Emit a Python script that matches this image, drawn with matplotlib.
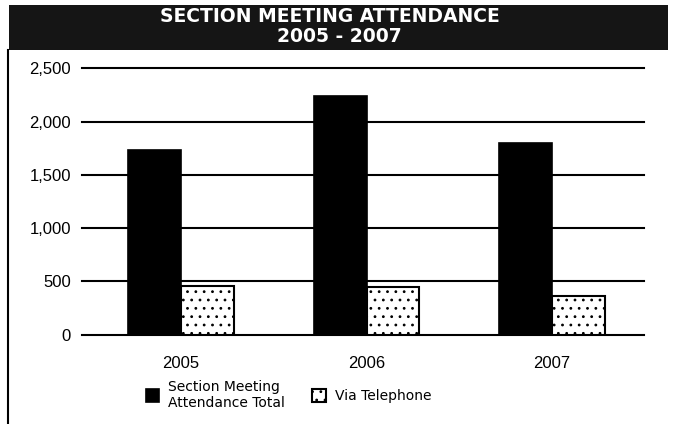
import matplotlib.pyplot as plt
import numpy as np
from matplotlib.lines import Line2D
from matplotlib.patches import Rectangle

years = ['2005', '2006', '2007']
attendance_total = [1730, 2240, 1795]
via_telephone = [455, 450, 365]
y_ticks = [0, 500, 1000, 1500, 2000, 2500]

plt.rcParams['hatch.color'] = '#9a9a9a'
plt.rcParams['hatch.linewidth'] = 0.8

fig = plt.figure(figsize=(6.73, 4.24), dpi=100)
ax = fig.add_axes([0.1218, 0.2104, 0.8351, 0.6286])

x = np.arange(len(years))
w = 0.285
ax.bar(x - w / 2, attendance_total, width=w, color='black', edgecolor='black',
       linewidth=1.2, label='Section Meeting\nAttendance Total', zorder=3)
ax.bar(x + w / 2, via_telephone, width=w, color='white', edgecolor='black',
       linewidth=1.5, hatch='..', label='Via Telephone', zorder=3)

ax.set_xlim(-0.534, 2.496)
ax.set_ylim(0, 2500)
ax.set_yticks(y_ticks)
ax.set_yticklabels([f'{v:,}' for v in y_ticks], fontsize=12, family='Liberation Sans')
ax.set_xticks(x)
ax.set_xticklabels(years, fontsize=12, family='Liberation Sans')
ax.tick_params(axis='y', length=0, pad=8)
ax.tick_params(axis='x', length=0, pad=15)
for v in y_ticks:
    ax.axhline(v, color='black', linewidth=1.5, zorder=1, clip_on=False)
for s in ax.spines.values():
    s.set_visible(False)

# title banner
fig.add_artist(Rectangle((9 / 673, 1 - 50 / 424), 659 / 673, 45 / 424,
                         transform=fig.transFigure, facecolor='#151515',
                         edgecolor='none'))
fig.text(0.49, 1 - 16 / 424, 'SECTION MEETING ATTENDANCE', color='white',
         fontsize=13.5, fontweight='bold', ha='center', va='center')
fig.text(0.505, 1 - 37 / 424, '2005 - 2007', color='white',
         fontsize=13.5, fontweight='bold', ha='center', va='center')

# left frame line
fig.add_artist(Line2D([8 / 673, 8 / 673], [0, 1 - 50 / 424],
                      transform=fig.transFigure, color='black', linewidth=1.5))

fig.legend(loc='upper left', bbox_to_anchor=(140 / 673, 1 - 374 / 424),
           ncol=2, frameon=False, fontsize=10, handlelength=1.0,
           handleheight=1.0, handletextpad=0.6, columnspacing=2.0,
           borderaxespad=0)

fig.savefig('out.png', dpi=100)
